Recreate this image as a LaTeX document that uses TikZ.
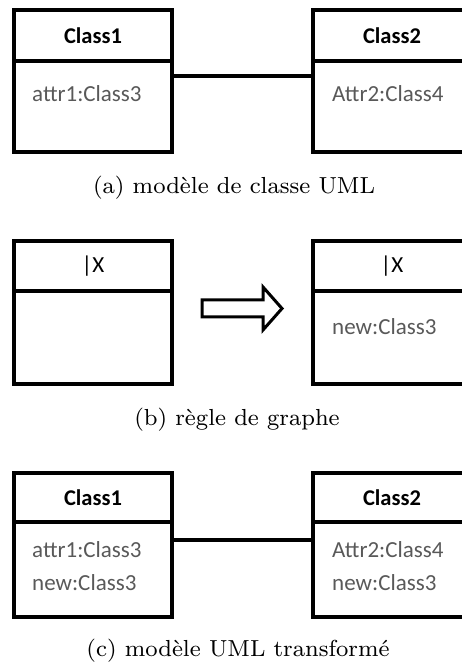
\documentclass[tikz,border=0pt]{standalone}
\usepackage{fontspec}
\newfontfamily\umlfont{Carlito}
\usetikzlibrary{positioning}
\definecolor{attrgray}{HTML}{595959}
\tikzset{
  x=1pt, y=1pt,
  boxline/.style={draw=black, line width=3.6pt},
  hdr/.style={boxline, rectangle, minimum width=158pt, inner sep=0pt,
    font=\umlfont\bfseries\fontsize{22.5}{24}\selectfont, text=black},
  rulehdr/.style={hdr, font=\umlfont\fontsize{23}{24}\selectfont},
  body/.style={boxline, rectangle, minimum width=158pt, inner sep=0pt},
  attr/.style={anchor=west, inner sep=0pt,
    font=\umlfont\fontsize{23}{24}\selectfont, text=attrgray},
  assoc/.style={draw=black, line width=3.4pt},
  caption/.style={inner sep=0pt}
}
\newcommand{\captext}[1]{\scalebox{2.9}{\fontsize{8}{9}\selectfont #1}}
\begin{document}
\begin{tikzpicture}
\useasboundingbox (0,0) rectangle (462,668);
\clip (0,0) rectangle (462,668);

% (a) UML class model
\node[hdr, minimum height=51pt] (a1h) at (93,632.5) {Class1};
\node[body, minimum height=91pt] (a1b) at (93,561.5) {};
\node[hdr, minimum height=51pt] (a2h) at (392,632.5) {Class2};
\node[body, minimum height=91pt] (a2b) at (392,561.5) {};
\node[attr] (a1x) at (32,574) {attr1:Class3};
\node[attr] (a2x) at (332,574) {Attr2:Class4};
\draw[assoc] ([yshift=-17pt]a1b.north east) -- ([yshift=-17pt]a2b.north west);
\node[caption] (capa) at (234,480) {\captext{(a) modèle de classe UML}};

% (b) graph rule
\node[rulehdr, minimum height=50pt] (b1h) at (93,402) {|X};
\node[body, minimum height=93pt] (b1b) at (93,330.5) {};
\node[rulehdr, minimum height=50pt] (b2h) at (392,402) {|X};
\node[body, minimum height=93pt] (b2b) at (392,330.5) {};
\node[attr] (b2x) at (332,341) {new:Class3};
% hollow block arrow between the two sides of the rule
\draw[line width=3pt, line join=miter]
  (202,368) -- (263,368) -- (263,381) -- (282,359.5) -- (263,338)
  -- (263,351) -- (202,351) -- cycle;
\node[caption] (capb) at (237,248) {\captext{(b) règle de graphe}};

% (c) transformed UML model
\node[hdr, minimum height=49pt] (c1h) at (93,170.5) {Class1};
\node[body, minimum height=95pt] (c1b) at (93,98.5) {};
\node[hdr, minimum height=49pt] (c2h) at (392,170.5) {Class2};
\node[body, minimum height=95pt] (c2b) at (392,98.5) {};
\node[attr] (c1x) at (32,118) {attr1:Class3};
\node[attr] (c1y) at (32,85) {new:Class3};
\node[attr] (c2x) at (332,118) {Attr2:Class4};
\node[attr] (c2y) at (332,85) {new:Class3};
\draw[assoc] ([yshift=-20pt]c1b.north east) -- ([yshift=-20pt]c2b.north west);
\node[caption] (capc) at (238,17) {\captext{(c) modèle UML transformé}};
\end{tikzpicture}
\end{document}
